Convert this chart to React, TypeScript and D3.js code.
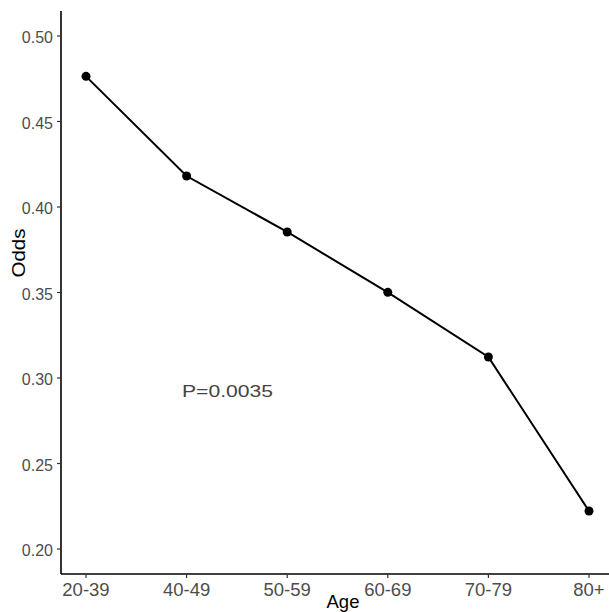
import React from "react";
import * as d3 from "d3";

const categories = ["20-39", "40-49", "50-59", "60-69", "70-79", "80+"];
const odds = [0.4764, 0.4181, 0.3854, 0.3501, 0.3123, 0.2222];
const yTicks = [0.2, 0.25, 0.3, 0.35, 0.4, 0.45, 0.5];
const annotation = "P=0.0035";

const W = 609;
const H = 612;
const FONT = "'Liberation Sans', Arial, sans-serif";

export default function App() {
  const x = d3.scalePoint<string>().domain(categories).range([86, 589]);
  const y = d3.scaleLinear().domain([0.2, 0.5]).range([549, 36]);
  const axisX = 61;
  const axisY = 574;
  const top = 11;
  const line = d3
    .line<number>()
    .x((_, i) => x(categories[i]) as number)
    .y((d) => y(d));

  return (
    <svg
      width={W}
      height={H}
      style={{ position: "absolute", left: 0, top: 0, background: "#fff" }}
    >
      {/* axes */}
      <line x1={axisX} x2={axisX} y1={top} y2={axisY} stroke="#000" strokeWidth={1.6} />
      <line x1={axisX} x2={W} y1={axisY} y2={axisY} stroke="#000" strokeWidth={1.6} />
      {yTicks.map((t) => (
        <g key={t}>
          <line x1={axisX - 4} x2={axisX} y1={y(t)} y2={y(t)} stroke="#333" strokeWidth={1.2} />
          <text
            x={axisX - 8}
            y={y(t)}
            dy="0.45em"
            textAnchor="end"
            fontFamily={FONT}
            fontSize={16}
            fill="#4d4d4d"
          >
            {t.toFixed(2)}
          </text>
        </g>
      ))}
      {categories.map((c) => (
        <g key={c}>
          <line
            x1={x(c)}
            x2={x(c)}
            y1={axisY}
            y2={axisY + 4}
            stroke="#333"
            strokeWidth={1.2}
          />
          <text
            x={x(c)}
            y={axisY + 22}
            textAnchor="middle"
            fontFamily={FONT}
            fontSize={18.5}
            fill="#4d4d4d"
          >
            {c}
          </text>
        </g>
      ))}
      {/* axis titles */}
      <text
        x={343}
        y={608}
        textAnchor="middle"
        fontFamily={FONT}
        fontSize={18.5}
        fill="#000"
      >
        Age
      </text>
      <text
        transform={`translate(25,253) rotate(-90)`}
        textAnchor="middle"
        fontFamily={FONT}
        fontSize={18}
        textLength={49}
        lengthAdjust="spacingAndGlyphs"
        fill="#000"
      >
        Odds
      </text>
      {/* line + points */}
      <path d={line(odds) as string} fill="none" stroke="#000" strokeWidth={2} />
      {odds.map((v, i) => (
        <circle key={i} cx={x(categories[i])} cy={y(v)} r={4.5} fill="#000" />
      ))}
      <text
        x={182}
        y={397}
        fontFamily={FONT}
        fontSize={17}
        textLength={91}
        lengthAdjust="spacingAndGlyphs"
        fill="#444"
      >
        {annotation}
      </text>
    </svg>
  );
}
